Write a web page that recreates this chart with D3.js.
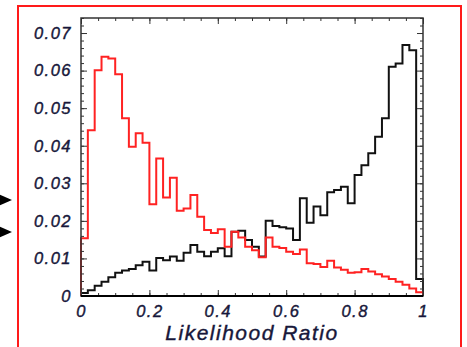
<!DOCTYPE html>
<html>
<head>
<meta charset="utf-8">
<script src="https://cdn.jsdelivr.net/npm/d3@7"></script>
<style>
  body { margin: 0; background: #fff; }
  svg { display: block; }
  .tl text { font-family: "Liberation Sans", Arial, sans-serif; font-style: italic; fill: #17173a; stroke: #17173a; stroke-width: 0.4px; }
</style>
</head>
<body>
<svg id="chart" width="467" height="347"></svg>
<script>
// bin lower edges are i * binWidth, 50 bins over [0,1]
var binWidth = 0.02;

// black histogram
var blackValues = [
  0.0008, 0.0015, 0.0027, 0.0038, 0.0050, 0.0062, 0.0068, 0.0072, 0.0082, 0.0091,
  0.0068, 0.0101, 0.0095, 0.0105, 0.0094, 0.0115, 0.0136, 0.0118, 0.0106, 0.0118,
  0.0127, 0.0106, 0.0171, 0.0174, 0.0149, 0.0131, 0.0105, 0.0200, 0.0186, 0.0183,
  0.0180, 0.0149, 0.0260, 0.0195, 0.0238, 0.0215, 0.0276, 0.0282, 0.0291, 0.0247,
  0.0322, 0.0348, 0.0380, 0.0424, 0.0473, 0.0610, 0.0619, 0.0668, 0.0654, 0.0045
];

// red histogram
var redValues = [
  0.0154, 0.0441, 0.0601, 0.0637, 0.0632, 0.0590, 0.0473, 0.0397, 0.0433, 0.0408,
  0.0244, 0.0366, 0.0262, 0.0315, 0.0227, 0.0233, 0.0269, 0.0211, 0.0176, 0.0168,
  0.0178, 0.0131, 0.0171, 0.0156, 0.0131, 0.0122, 0.0103, 0.0156, 0.0131, 0.0128,
  0.0118, 0.0112, 0.0124, 0.0087, 0.0085, 0.0077, 0.0094, 0.0076, 0.0070, 0.0062,
  0.0063, 0.0072, 0.0065, 0.0058, 0.0052, 0.0045, 0.0038, 0.0030, 0.0020, 0.0010
];

var xTicks = [0, 0.2, 0.4, 0.6, 0.8, 1];
var xTickLabels = ["0", "0.2", "0.4", "0.6", "0.8", "1"];
var yTicks = [0, 0.01, 0.02, 0.03, 0.04, 0.05, 0.06, 0.07];
var yTickLabels = ["0", "0.01", "0.02", "0.03", "0.04", "0.05", "0.06", "0.07"];
var xLabel = "Likelihood Ratio";

var svg = d3.select("#chart");

// plot box in pixels
var pLeft = 81, pRight = 423, pTop = 18, pBottom = 296;

var x = d3.scaleLinear().domain([0, 1]).range([pLeft, pRight]);
var y = d3.scaleLinear().domain([0, 0.074]).range([pBottom, pTop]);

// red outer frame
svg.append("rect")
  .attr("x", 18).attr("y", 6)
  .attr("width", 443).attr("height", 350)
  .attr("fill", "none")
  .attr("stroke", "#ff1a1a")
  .attr("stroke-width", 2);

// arrows at the left
var arrows = [200, 232];
svg.selectAll("path.arrow")
  .data(arrows)
  .enter()
  .append("path")
  .attr("class", "arrow")
  .attr("d", d => "M-2," + (d - 6) + " L12," + d + " L-2," + (d + 6) + " Z")
  .attr("fill", "#000");

// histogram step paths
function stepPoints(vals) {
  var pts = [[0, 0]];
  vals.forEach(function (v, i) { pts.push([i * binWidth, v]); });
  pts.push([1, vals[vals.length - 1]]);
  pts.push([1, 0]);
  return pts;
}

var line = d3.line()
  .x(d => x(d[0]))
  .y(d => y(d[1]))
  .curve(d3.curveStepAfter);

svg.append("path")
  .attr("d", line(stepPoints(blackValues)))
  .attr("fill", "none")
  .attr("stroke", "#111")
  .attr("stroke-width", 2);

svg.append("path")
  .attr("d", line(stepPoints(redValues)))
  .attr("fill", "none")
  .attr("stroke", "#f22")
  .attr("stroke-width", 2);

// minor ticks
var xMinor = d3.range(0, 1.0001, 0.05);
var yMinor = d3.range(0, 0.0741, 0.002);

function minorAxis(axis, tr) {
  var g = svg.append("g").attr("transform", tr).call(axis);
  g.select(".domain").remove();
  g.selectAll("text").remove();
  g.selectAll("line").attr("stroke", "#333").attr("stroke-width", 1);
}
minorAxis(d3.axisBottom(x).tickValues(xMinor).tickSize(-3), "translate(0," + pBottom + ")");
minorAxis(d3.axisTop(x).tickValues(xMinor).tickSize(-3), "translate(0," + pTop + ")");
minorAxis(d3.axisLeft(y).tickValues(yMinor).tickSize(-3), "translate(" + pLeft + ",0)");
minorAxis(d3.axisRight(y).tickValues(yMinor).tickSize(-3), "translate(" + pRight + ",0)");
minorAxis(d3.axisTop(x).tickValues(xTicks).tickSize(-6), "translate(0," + pTop + ")");
minorAxis(d3.axisRight(y).tickValues(yTicks).tickSize(-6), "translate(" + pRight + ",0)");

// labelled axes
var xAxis = svg.append("g")
  .attr("class", "tl")
  .attr("transform", "translate(0," + pBottom + ")")
  .call(d3.axisBottom(x).tickValues(xTicks).tickSize(-6).tickPadding(9)
    .tickFormat((d, i) => xTickLabels[i]));
xAxis.select(".domain").remove();
xAxis.selectAll("line").attr("stroke", "#333").style("stroke-width", 1);
xAxis.selectAll("text").attr("font-size", 16.5).style("letter-spacing", "1.5px");

var yAxis = svg.append("g")
  .attr("class", "tl")
  .attr("transform", "translate(" + pLeft + ",0)")
  .call(d3.axisLeft(y).tickValues(yTicks).tickSize(-6).tickPadding(9)
    .tickFormat((d, i) => yTickLabels[i]));
yAxis.select(".domain").remove();
yAxis.selectAll("line").attr("stroke", "#333").style("stroke-width", 1);
yAxis.selectAll("text").attr("font-size", 16.5).style("letter-spacing", "1.5px");

// plot frame
svg.append("rect")
  .attr("x", pLeft).attr("y", pTop)
  .attr("width", pRight - pLeft).attr("height", pBottom - pTop)
  .attr("fill", "none")
  .attr("stroke", "#333")
  .attr("stroke-width", 1.5);
svg.append("line")
  .attr("x1", pLeft).attr("x2", pRight)
  .attr("y1", pBottom).attr("y2", pBottom)
  .attr("stroke", "#000")
  .attr("stroke-width", 2);

svg.append("text")
  .attr("x", (pLeft + pRight) / 2)
  .attr("y", 340)
  .attr("text-anchor", "middle")
  .attr("font-family", "Liberation Sans, Arial, sans-serif")
  .attr("font-style", "italic")
  .attr("font-size", 21)
  .style("letter-spacing", "1.5px")
  .attr("fill", "#17173a")
  .attr("stroke", "#17173a")
  .attr("stroke-width", 0.4)
  .text(xLabel);
</script>
</body>
</html>
